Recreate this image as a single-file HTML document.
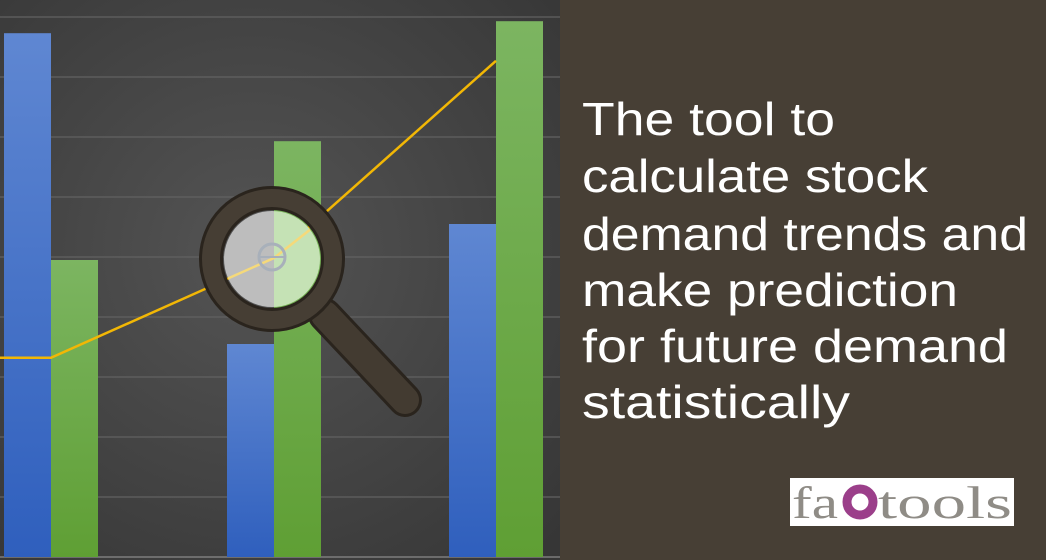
<!DOCTYPE html>
<html><head><meta charset="utf-8"><style>
html,body{margin:0;padding:0;width:1046px;height:560px;overflow:hidden;background:#473f35}
svg{display:block}
</style></head><body>
<svg width="1046" height="560" viewBox="0 0 1046 560">
<defs>
<radialGradient id="bg" cx="0.45" cy="0.45" r="0.75">
<stop offset="0" stop-color="#545454"/><stop offset="1" stop-color="#363636"/></radialGradient>
<linearGradient id="gb" x1="0" y1="0" x2="0" y2="1"><stop offset="0" stop-color="#5f87d2"/><stop offset="1" stop-color="#2f5fbd"/></linearGradient>
<linearGradient id="gg" x1="0" y1="0" x2="0" y2="1"><stop offset="0" stop-color="#7cb561"/><stop offset="1" stop-color="#5f9f34"/></linearGradient>
</defs>
<rect x="0" y="0" width="560" height="560" fill="url(#bg)"/>
<g id="grid"></g>
<g id="bars"></g>
<g id="line"></g>
<g>
<line x1="325" y1="315" x2="405" y2="400" stroke="#2a241d" stroke-width="34" stroke-linecap="round"/>
<line x1="325" y1="315" x2="405" y2="400" stroke="#433b31" stroke-width="28" stroke-linecap="round"/>
<circle cx="272" cy="259" r="61" fill="none" stroke="#2a241d" stroke-width="24"/>
<circle cx="272" cy="259" r="61" fill="none" stroke="#463e34" stroke-width="18"/>
<clipPath id="lens"><circle cx="272" cy="259" r="48"/></clipPath>
<g clip-path="url(#lens)">
<rect x="220" y="205" width="54" height="110" fill="#bdbdbd"/>
<rect x="274" y="205" width="54" height="110" fill="#c5e2b5"/>
<polyline points="220,282 274,258 330,214" fill="none" stroke="#f5d97a" stroke-width="2.5"/>
<circle cx="272" cy="257" r="13" fill="none" stroke="#a8b0ba" stroke-width="3"/>
<line x1="259" y1="257" x2="285" y2="257" stroke="#a8b0ba" stroke-width="2"/>
</g>
</g>
<rect x="560" y="0" width="486" height="560" fill="#473f35"/>
<g fill="#ffffff" font-family="Liberation Sans, DejaVu Sans, sans-serif" font-size="46">
<text x="582" y="135" textLength="253" lengthAdjust="spacingAndGlyphs">The tool to</text>
<text x="582" y="192" textLength="346" lengthAdjust="spacingAndGlyphs">calculate stock</text>
<text x="582" y="250" textLength="446" lengthAdjust="spacingAndGlyphs">demand trends and</text>
<text x="582" y="306" textLength="376" lengthAdjust="spacingAndGlyphs">make prediction</text>
<text x="582" y="362" textLength="426" lengthAdjust="spacingAndGlyphs">for future demand</text>
<text x="582" y="418" textLength="268" lengthAdjust="spacingAndGlyphs">statistically</text>
</g>
<g>
<rect x="790" y="478" width="224" height="48" fill="#ffffff"/>
<text x="792" y="518" font-family="Liberation Serif, serif" font-size="46" fill="#8f8c86" textLength="46" lengthAdjust="spacingAndGlyphs">fa</text>
<circle cx="860" cy="502" r="13" fill="none" stroke="#9b3f8a" stroke-width="9"/>
<text x="878" y="518" font-family="Liberation Serif, serif" font-size="46" fill="#8f8c86" textLength="134" lengthAdjust="spacingAndGlyphs">tools</text>
</g>
</svg>
<script>
const categories=['A','B','C'];
const blueValues=[8.73,3.55,5.55];
const greenValues=[4.95,6.93,8.93];
const trendValues=[3.32,3.32,4.98,8.27];
const gridTicks=[0,1,2,3,4,5,6,7,8,9];
const NS='http://www.w3.org/2000/svg';
const base=557,unit=60;
function y(v){return base-v*unit;}
const groupX=[4,227,449];
function xBlue(i){return groupX[i];}
function xGreen(i){return groupX[i]+47;}
const trendX=[0,51,274,496];
const grid=document.getElementById('grid');
gridTicks.forEach(t=>{const l=document.createElementNS(NS,'line');
l.setAttribute('x1',0);l.setAttribute('x2',560);l.setAttribute('y1',y(t));l.setAttribute('y2',y(t));
l.setAttribute('stroke',t===0?'#8a8a8a':'#626262');l.setAttribute('stroke-width',1.2);


grid.appendChild(l);});
const bars=document.getElementById('bars');
categories.forEach((c,i)=>{
 const b=document.createElementNS(NS,'rect');
 b.setAttribute('x',xBlue(i));b.setAttribute('width',47);b.setAttribute('y',y(blueValues[i]));b.setAttribute('height',base-y(blueValues[i]));b.setAttribute('fill','url(#gb)');
 
 
 bars.appendChild(b);
 const g=document.createElementNS(NS,'rect');
 g.setAttribute('x',xGreen(i));g.setAttribute('width',47);g.setAttribute('y',y(greenValues[i]));g.setAttribute('height',base-y(greenValues[i]));g.setAttribute('fill','url(#gg)');
 
 
 bars.appendChild(g);
});
const pl=document.createElementNS(NS,'polyline');
pl.setAttribute('points',trendValues.map((v,i)=>trendX[i]+','+y(v)).join(' '));
pl.setAttribute('fill','none');pl.setAttribute('stroke','#f2b705');pl.setAttribute('stroke-width',2.5);


document.getElementById('line').appendChild(pl);
</script>
</body></html>
